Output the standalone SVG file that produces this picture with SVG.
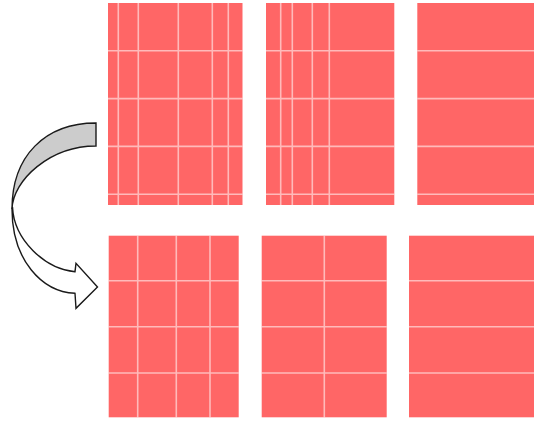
<svg xmlns="http://www.w3.org/2000/svg" width="534" height="421" viewBox="0 0 534 421">
<style>
.panel{fill:#ff6666}
.grid{stroke:#ffffff;stroke-opacity:0.55;stroke-width:1.6;fill:none}
.arrow{stroke:#1a1a1a;stroke-width:1.4;stroke-linejoin:miter}
</style>
<rect width="534" height="421" fill="#ffffff"/>
<g id="panel-top-left">
<rect class="panel" x="108" y="3" width="134.5" height="202"/>
<path class="grid" d="M118.3,3V205M138.3,3V205M178.3,3V205M212.3,3V205M228.3,3V205M108,50.8H242.5M108,98.6H242.5M108,146.4H242.5M108,194.2H242.5"/>
</g>
<g id="panel-top-middle">
<rect class="panel" x="266" y="3" width="128.3" height="202"/>
<path class="grid" d="M280.7,3V205M292.3,3V205M312.3,3V205M329.3,3V205M266,50.8H394.3M266,98.6H394.3M266,146.4H394.3M266,194.2H394.3"/>
</g>
<g id="panel-top-right">
<rect class="panel" x="417.3" y="3" width="120" height="202"/>
<path class="grid" d="M417.3,50.8H537M417.3,98.6H537M417.3,146.4H537M417.3,194.2H537"/>
</g>
<g id="panel-bottom-left">
<rect class="panel" x="108.7" y="235.7" width="130" height="181.6"/>
<path class="grid" d="M137.7,235.7V417.3M176.3,235.7V417.3M210,235.7V417.3M108.7,280.7H238.7M108.7,326.7H238.7M108.7,373H238.7"/>
</g>
<g id="panel-bottom-middle">
<rect class="panel" x="261.7" y="235.7" width="125" height="181.6"/>
<path class="grid" d="M324.3,235.7V417.3M261.7,280.7H386.7M261.7,326.7H386.7M261.7,373H386.7"/>
</g>
<g id="panel-bottom-right">
<rect class="panel" x="409" y="235.7" width="128" height="181.6"/>
<path class="grid" d="M409,280.7H537M409,326.7H537M409,373H537"/>
</g>
<g id="connectors">
<path class="arrow" fill="#cccccc" d="M96,123 C45,123 12,156 12,209 C13,180 50,146 96,146 Z"/>
<path class="arrow" fill="#ffffff" d="M12,209 C12,260 42,292 75,293.3 L76,308.3 L97.5,287 L76,263.3 L75,271.7 C45,269 14,240 12.5,207 Z"/>
</g>
</svg>
